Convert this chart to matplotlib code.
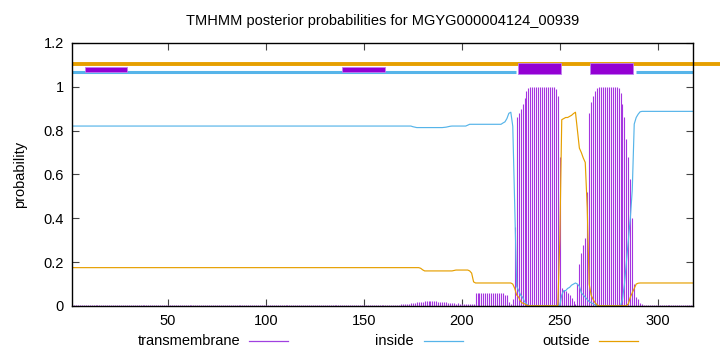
import numpy as np
import matplotlib
matplotlib.use('Agg')
import matplotlib.pyplot as plt
from matplotlib.lines import Line2D

plt.rcParams['font.family'] = ['Liberation Sans', 'DejaVu Sans']

# posterior probabilities per residue (1..318)
tm = ([0.004] * 165
      + [0.004, 0.005, 0.006, 0.007, 0.008, 0.009, 0.010, 0.011, 0.012, 0.013, 0.014, 0.016, 0.018, 0.019, 0.020]
      + [0.021, 0.021, 0.022, 0.022, 0.022, 0.021, 0.021, 0.020, 0.020, 0.019, 0.019, 0.018]
      + [0.014, 0.013, 0.012, 0.012, 0.011, 0.012, 0.010, 0.011, 0.010, 0.009, 0.010, 0.008, 0.009, 0.008]
      + [0.058, 0.059, 0.059, 0.060, 0.060, 0.060, 0.060, 0.060, 0.060, 0.060, 0.060, 0.059, 0.059, 0.058, 0.058]
      + [0.052, 0.048, 0.020, 0.008, 0.030, 0.360, 0.860, 0.880, 0.900, 0.920, 0.950, 0.980, 0.995]
      + [0.999] * 13
      + [0.990, 0.960, 0.680, 0.080, 0.075, 0.070, 0.060, 0.050, 0.035, 0.022, 0.010,
         0.100, 0.190, 0.240, 0.280, 0.310, 0.520, 0.880, 0.930, 0.960, 0.980, 0.995]
      + [0.999] * 10
      + [0.995, 0.970, 0.920, 0.860, 0.760, 0.680, 0.580, 0.400, 0.100, 0.040, 0.030, 0.015, 0.008]
      + [0.005] * 26)

inside = ([0.821] * 174
          + [0.818, 0.816] + [0.814] * 14 + [0.815, 0.816, 0.818, 0.820]
          + [0.821] * 8
          + [0.825] + [0.829] * 17
          + [0.835, 0.840, 0.855, 0.879, 0.884, 0.820, 0.450, 0.090, 0.070, 0.050, 0.040, 0.020, 0.010]
          + [0.001] * 16
          + [0.001, 0.050, 0.070, 0.070, 0.080, 0.085, 0.095, 0.100, 0.105, 0.100,
             0.090, 0.060, 0.050, 0.040, 0.030, 0.020, 0.015, 0.010, 0.005, 0.001]
          + [0.001] * 12
          + [0.030, 0.100, 0.200, 0.300, 0.400, 0.530, 0.830, 0.860, 0.875, 0.886]
          + [0.888] * 27)

outside = ([0.175] * 178
           + [0.172, 0.165] + [0.160] * 15 + [0.162] + [0.164] * 7 + [0.160, 0.150, 0.110]
           + [0.105] * 19
           + [0.100, 0.080, 0.050, 0.040, 0.020, 0.013, 0.010, 0.005]
           + [0.001] * 16
           + [0.300, 0.850, 0.855, 0.860, 0.860, 0.865, 0.870, 0.878, 0.884, 0.800,
              0.720, 0.700, 0.675, 0.655, 0.450, 0.100, 0.050, 0.030, 0.015, 0.005]
           + [0.001] * 15
           + [0.010, 0.040, 0.060, 0.080, 0.100, 0.104]
           + [0.105] * 28)

residues = np.arange(1, len(tm) + 1)
seq_len = 318

# predicted topology drawn above the curves
inside_segments = [(1, 227.6), (288.8, 318)]
helix_boxes = [(228.5, 250.5), (265.3, 287.4)]
small_boxes = [(7.4, 29.2), (138.8, 160.7)]

c_tm = '#9400d3'
c_bar = '#a535e0'
c_in = '#56b4e9'
c_out = '#e69f00'

fig = plt.figure(figsize=(7.2, 3.52), dpi=100)
ax = fig.add_axes([0.1, 0.1307, 0.8625, 0.7472])

ax.vlines(residues, 0, tm, color=c_bar, linewidth=0.8)
ax.plot(residues, inside, color=c_in, linewidth=0.85)
ax.plot(residues, outside, color=c_out, linewidth=0.85)

# topology lines
ax.plot([1, 340], [1.105, 1.105], color=c_out, linewidth=2.8, clip_on=False, solid_capstyle='butt')
for a, b in inside_segments:
    ax.plot([a, b], [1.066, 1.066], color=c_in, linewidth=2.2, solid_capstyle='butt')
for a, b in helix_boxes:
    ax.fill_between([a, b], 1.058, 1.11, color=c_tm, edgecolor='#c080f0', linewidth=0.6, zorder=3)
for a, b in small_boxes:
    ax.fill_between([a, b], 1.0675, 1.0905, color=c_tm, edgecolor='#c080f0', linewidth=0.6, zorder=3)

ax.set_xlim(1, seq_len)
ax.set_ylim(0, 1.2)
ax.set_xticks([50, 100, 150, 200, 250, 300])
ax.set_yticks([0, 0.2, 0.4, 0.6, 0.8, 1.0, 1.2])
ax.set_yticklabels(['0', '0.2', '0.4', '0.6', '0.8', '1', '1.2'])
ax.tick_params(direction='in', length=5, top=True, right=True, labelsize=10.5, pad=6, color='#444444')
for s in ax.spines.values():
    s.set_linewidth(1)

ax.set_ylabel('probability', fontsize=10.5, labelpad=12)
ax.set_title('TMHMM posterior probabilities for MGYG000004124_00939', fontsize=10.5, pad=13)

# legend along the bottom, gnuplot style
W, H = 720.0, 352.0
ly = 1 - 341 / H
for label, col, tx, l0, l1 in [('transmembrane', '#a040e0', 240, 249, 288),
                                ('inside', c_in, 414, 424, 463),
                                ('outside', c_out, 590, 599, 638)]:
    fig.text(tx / W, ly, label, ha='right', va='center', fontsize=10.5)
    fig.add_artist(Line2D([l0 / W, l1 / W], [ly, ly], color=col, linewidth=0.9))

fig.savefig('out.png', dpi=100)
